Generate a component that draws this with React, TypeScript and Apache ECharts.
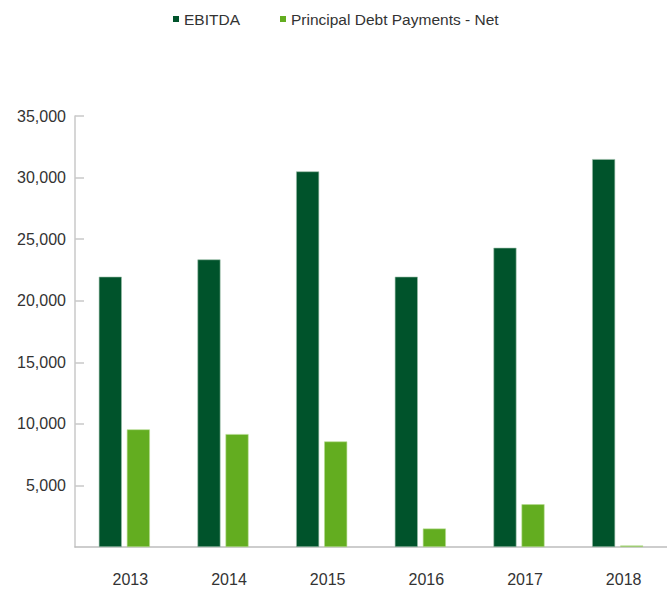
import React, { useEffect, useRef } from "react";
import * as echarts from "echarts";

const categories = ["2013", "2014", "2015", "2016", "2017", "2018"];
const ebitda = [21950, 23350, 30500, 21950, 24300, 31500];
const principalDebt = [9550, 9170, 8570, 1500, 3470, 120];
const seriesNames = ["EBITDA", "Principal Debt Payments - Net"];

const FONT = "'Liberation Sans', Arial, Helvetica, sans-serif";

export default function App() {
  const ref = useRef<HTMLDivElement>(null);
  useEffect(() => {
    if (!ref.current) return;
    const chart = echarts.init(ref.current, undefined, { renderer: "svg" });
    chart.setOption({
      animation: false,
      backgroundColor: "#ffffff",
      textStyle: { fontFamily: FONT },
      legend: {
        top: 11,
        left: 173,
        padding: 0,
        icon: "rect",
        itemWidth: 6,
        itemHeight: 6,
        itemGap: 40,
        itemStyle: { borderWidth: 0 },
        textStyle: { fontFamily: FONT, fontSize: 15.5, color: "#333333" },
        data: seriesNames,
      },
      grid: { left: 75, right: 0, top: 116, bottom: 46, containLabel: false },
      xAxis: {
        type: "category",
        data: categories,
        axisLine: { lineStyle: { color: "#bdbdbd", width: 1.5 } },
        axisTick: { show: false },
        axisLabel: {
          margin: 24,
          fontSize: 16,
          fontFamily: FONT,
          color: "#333333",
          padding: [0, 0, 0, 12],
        },
      },
      yAxis: {
        type: "value",
        min: 0,
        max: 35000,
        interval: 5000,
        axisLine: { show: true, lineStyle: { color: "#c8c8c8", width: 1.5 } },
        axisTick: { show: true, inside: true, length: 9, lineStyle: { color: "#c8c8c8", width: 1.5 } },
        splitLine: { show: false },
        axisLabel: {
          showMinLabel: false,
          margin: 9,
          fontSize: 16,
          fontFamily: FONT,
          color: "#333333",
          formatter: (v: number) => v.toLocaleString("en-US"),
        },
      },
      series: [
        {
          name: seriesNames[0],
          type: "bar",
          data: ebitda,
          barWidth: 23,
          barGap: "22%",
          itemStyle: { color: "#00532b", borderColor: "#9cbfa9", borderWidth: 0.6 },
        },
        {
          name: seriesNames[1],
          type: "bar",
          data: principalDebt,
          barWidth: 23,
          barGap: "22%",
          itemStyle: { color: "#63ad20", borderColor: "#b5dc8f", borderWidth: 0.6 },
        },
      ],
    });
    return () => chart.dispose();
  }, []);
  return (
    <div
      ref={ref}
      style={{ position: "fixed", left: 0, top: 0, width: 667, height: 593 }}
    />
  );
}
